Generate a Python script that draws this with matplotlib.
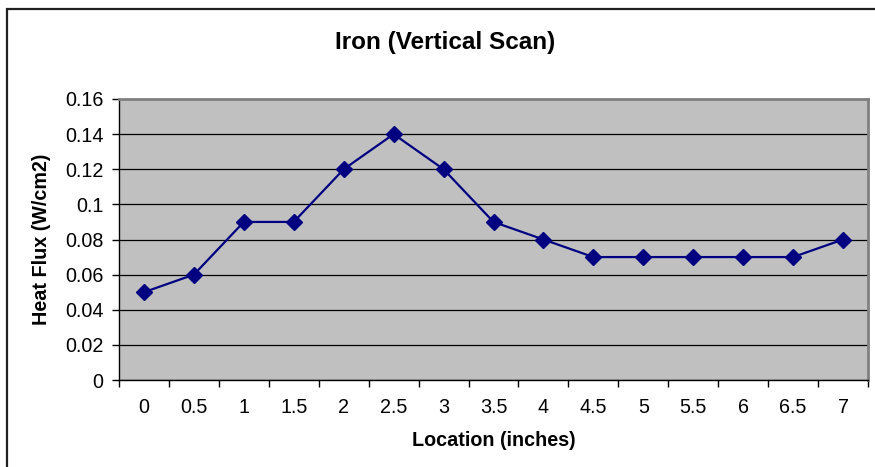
import matplotlib
matplotlib.use("Agg")
import matplotlib.pyplot as plt
from matplotlib.patches import Rectangle
from matplotlib.ticker import FixedLocator, FuncFormatter

# === DATA ===
locations = ["0", "0.5", "1", "1.5", "2", "2.5", "3", "3.5", "4", "4.5",
             "5", "5.5", "6", "6.5", "7"]
heat_flux = [0.05, 0.06, 0.09, 0.09, 0.12, 0.14, 0.12, 0.09, 0.08, 0.07,
             0.07, 0.07, 0.07, 0.07, 0.08]
y_ticks = [0, 0.02, 0.04, 0.06, 0.08, 0.1, 0.12, 0.14, 0.16]

plt.rcParams['font.family'] = ['Liberation Sans', 'DejaVu Sans']

fig = plt.figure(figsize=(8.75, 4.67), dpi=100)
fig.patch.set_facecolor('white')

# chart frame (cut off at right and bottom)
fig.add_artist(Rectangle((7 / 875, -0.05), 1.2, 1 - 9 / 467 + 0.05,
                         transform=fig.transFigure, fill=False,
                         edgecolor='#202020', linewidth=1.6))

ax = fig.add_axes([119 / 875, 87 / 467, 749 / 875, 281 / 467])
ax.set_facecolor('#C0C0C0')

x = list(range(len(locations)))
ax.plot(x, heat_flux, color='#000080', linewidth=1.6, marker='D',
        markersize=8, markerfacecolor='#000080', markeredgecolor='#000080',
        zorder=3)

ax.set_xlim(-0.5, len(locations) - 0.5)
ax.set_ylim(0, 0.16)

# category axis: ticks between categories, labels centred
ax.xaxis.set_major_locator(FixedLocator(x))
ax.set_xticklabels(locations)
ax.xaxis.set_minor_locator(FixedLocator([i - 0.5 for i in range(len(locations) + 1)]))
ax.tick_params(axis='x', which='major', length=0, pad=13, labelsize=14.2)
ax.tick_params(axis='x', which='minor', length=5, width=1, color='black', direction='out')

ax.set_yticks(y_ticks)
ax.yaxis.set_major_formatter(FuncFormatter(lambda v, p: f"{v:g}"))
ax.tick_params(axis='y', length=5, width=1, color='black', direction='out',
               pad=6, labelsize=14.2)

ax.grid(axis='y', color='black', linewidth=0.9)
ax.set_axisbelow(True)

for side in ['top', 'right']:
    ax.spines[side].set_color('#808080')
    ax.spines[side].set_linewidth(2)
for side in ['left', 'bottom']:
    ax.spines[side].set_color('black')
    ax.spines[side].set_linewidth(1)

ax.set_xlabel('Location (inches)', fontsize=14.2, fontweight='bold', labelpad=10)
ax.set_ylabel('Heat Flux (W/cm2)', fontsize=14.2, fontweight='bold', labelpad=10)

fig.text(445 / 875, 1 - 42 / 467, 'Iron (Vertical Scan)', ha='center', va='center',
         fontsize=17.5, fontweight='bold')

fig.savefig('out.png', dpi=100)
